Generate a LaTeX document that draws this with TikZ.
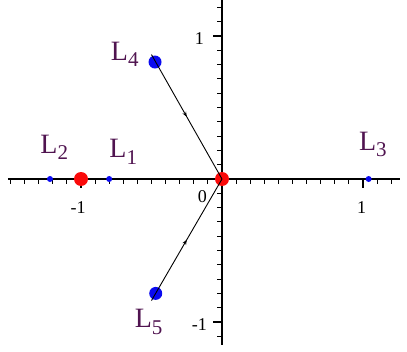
\documentclass[tikz,border=0pt]{standalone}
\usepackage{fontspec}
\setmainfont{Liberation Serif}
\usetikzlibrary{decorations.markings,arrows.meta}
\definecolor{lblpurple}{RGB}{80,20,80}
\definecolor{ptblue}{RGB}{10,10,240}
\definecolor{ptred}{RGB}{250,10,10}
\tikzset{
  axis/.style={line width=1.6pt,black},
  tickmark/.style={line width=1.1pt,black},
  lbl/.style={text=lblpurple,inner sep=0pt,font=\fontsize{28}{28}\selectfont},
  ticklbl/.style={inner sep=0pt,font=\fontsize{18}{18}\selectfont},
  bigblue/.style={circle,fill=ptblue,inner sep=0pt,minimum size=13pt},
  smallblue/.style={circle,fill=ptblue,inner sep=0pt,minimum size=6pt},
  bigred/.style={circle,fill=ptred,inner sep=0pt,minimum size=14pt},
  traj/.style={line width=0.9pt,black,postaction={decorate},
    decoration={markings,mark=at position 0.5 with {\arrow{Stealth[length=5pt,width=4pt]}}}}
}
\newcommand{\Lab}[1]{L\raisebox{-0.22em}{\fontsize{21}{21}\selectfont #1}}
\begin{document}
\begin{tikzpicture}[x=141pt,y=143pt]
\useasboundingbox (-222pt,-172pt) rectangle (185pt,179pt);
% axes
\draw[axis] (-214pt,0) -- (178pt,0);
\draw[axis] (0,179pt) -- (0,-166pt);
% x ticks
\foreach \i in {-15,...,12}{
  \pgfmathtruncatemacro{\m}{mod(abs(\i),10)}
  \ifnum\m=0
    \draw[tickmark] (\i/10,0) -- ++(0,-9pt);
  \else
    \draw[tickmark] (\i/10,0) -- ++(0,-5pt);
  \fi
}
% y ticks
\foreach \i in {-11,...,12}{
  \pgfmathtruncatemacro{\m}{mod(abs(\i),10)}
  \ifnum\m=0
    \draw[tickmark] (0,\i/10) -- ++(-9pt,0);
  \else
    \draw[tickmark] (0,\i/10) -- ++(-5pt,0);
  \fi
}
% tick labels
\node[ticklbl] (tm1) at (-1.02,-0.2) {-1};
\node[ticklbl] (tp1) at (0.99,-0.2) {1};
\node[ticklbl] (t0) at (-0.14,-0.12) {0};
\node[ticklbl] (ty1) at (-0.16,0.98) {1};
\node[ticklbl] (tym1) at (-0.16,-1.02) {-1};
% points
\coordinate (A4) at (-0.50,0.87);
\coordinate (A5) at (-0.50,-0.85);
\node[bigred] (O) at (0,0) {};
\node[bigred] (M) at (-1,0) {};
\node[bigblue] (P4) at (-0.475,0.818) {};
\node[bigblue] (P5) at (-0.47,-0.80) {};
\node[smallblue] (P1) at (-0.80,0) {};
\node[smallblue] (P2) at (-1.22,0) {};
\node[smallblue] (P3) at (1.04,0) {};
% trajectories
\draw[traj] (A4) -- (O.center);
\draw[traj] (A5) -- (O.center);
% labels
\node[lbl] (L4) at (-0.69,0.87) {\Lab{4}};
\node[lbl] (L5) at (-0.52,-1.00) {\Lab{5}};
\node[lbl] (L2) at (-1.19,0.22) {\Lab{2}};
\node[lbl] (L1) at (-0.70,0.19) {\Lab{1}};
\node[lbl] (L3) at (1.07,0.24) {\Lab{3}};
\end{tikzpicture}
\end{document}
